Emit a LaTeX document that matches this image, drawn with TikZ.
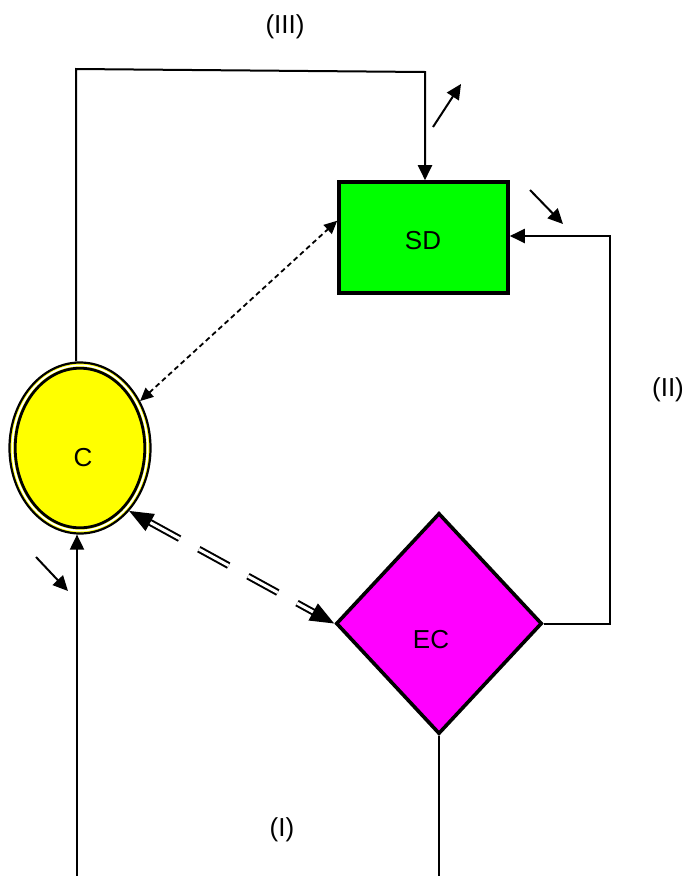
\documentclass[tikz,border=0pt]{standalone}
\usepackage{fontspec}
\setmainfont{Liberation Sans}
\usetikzlibrary{shapes.geometric,arrows.meta}
\definecolor{cyel}{RGB}{255,255,0}
\definecolor{sdgreen}{RGB}{0,255,0}
\definecolor{ecmag}{RGB}{255,0,255}
\begin{document}
\begin{tikzpicture}[x=1pt,y=-1pt,
  lbl/.style={font=\fontsize{26}{30}\selectfont, inner sep=0pt},
  conn/.style={line width=2pt},
  tip/.style={conn,-{Triangle[length=15pt,width=14pt]}},
  dotarrow/.style={line width=1.8pt, dash pattern=on 5pt off 3.5pt, {Triangle[length=13pt,width=12pt]}-{Triangle[length=13pt,width=12pt]}},
  dblarrow/.style={line width=2pt, double distance=3pt, dash pattern=on 34pt off 22pt, {Triangle[length=24pt,width=19pt]}-{Triangle[length=24pt,width=19pt]}}
]
\useasboundingbox (0,0) rectangle (685,876);
\clip (0,0) rectangle (685,876);

% nodes
\node[ellipse, draw, line width=2.2pt, fill=cyel, minimum width=141pt, minimum height=171pt, inner sep=0pt] (C) at (80,448) {};
\draw[white, line width=1.8pt] (C.center) ellipse [x radius=67.6pt, y radius=82.6pt];
\draw[black, line width=2.8pt] (C.center) ellipse [x radius=64.8pt, y radius=79.8pt];
\node[lbl] (Ct) at (83,458) {C};

\node[rectangle, draw, line width=3.6pt, fill=sdgreen, minimum width=169pt, minimum height=111pt, inner sep=0pt] (SD) at (423.5,237.5) {};
\node[lbl] (SDt) at (423,241) {SD};

\node[diamond, draw, line width=3.6pt, fill=ecmag, minimum width=206pt, minimum height=221pt, inner sep=0pt] (EC) at (439,623.5) {};
\node[lbl] (ECt) at (431,640) {EC};

% labels
\node[lbl] (L3) at (285,27) {(III)};
\node[lbl] (L2) at (668,390) {(II)};
\node[lbl] (L1) at (282,830) {(I)};

% loop (III)
\coordinate (t1) at (76,69);
\coordinate (t2) at (425,72);
\draw[tip] (C.north -| t1) -- (t1) -- (t2) -- (t2 |- SD.north);

% loop (II)
\coordinate (r1) at (610,623.5);
\coordinate (r2) at (610,236);
\draw[tip] (EC.east) -- (r1) -- (r2) -- (r2 -| SD.east);

% loop (I)
\coordinate (b1) at (437,895);
\coordinate (b2) at (77,895);
\draw[tip] (EC.south) -- (EC.south |- b1) -- (b2) -- (b2 |- C.south);

% dotted double arrow
\draw[dotarrow] (C.38) -- (SD.169.6);

% double-lined dashed arrow
\draw[dblarrow] (C.-52) -- (EC.west);

% small free arrows
\coordinate (a1s) at (433,127); \coordinate (a1e) at (461,84);
\coordinate (a2s) at (530,190); \coordinate (a2e) at (563,224);
\coordinate (a3s) at (36,557);  \coordinate (a3e) at (68,591);
\draw[tip] (a1s) -- (a1e);
\draw[tip] (a2s) -- (a2e);
\draw[tip] (a3s) -- (a3e);
\end{tikzpicture}
\end{document}
